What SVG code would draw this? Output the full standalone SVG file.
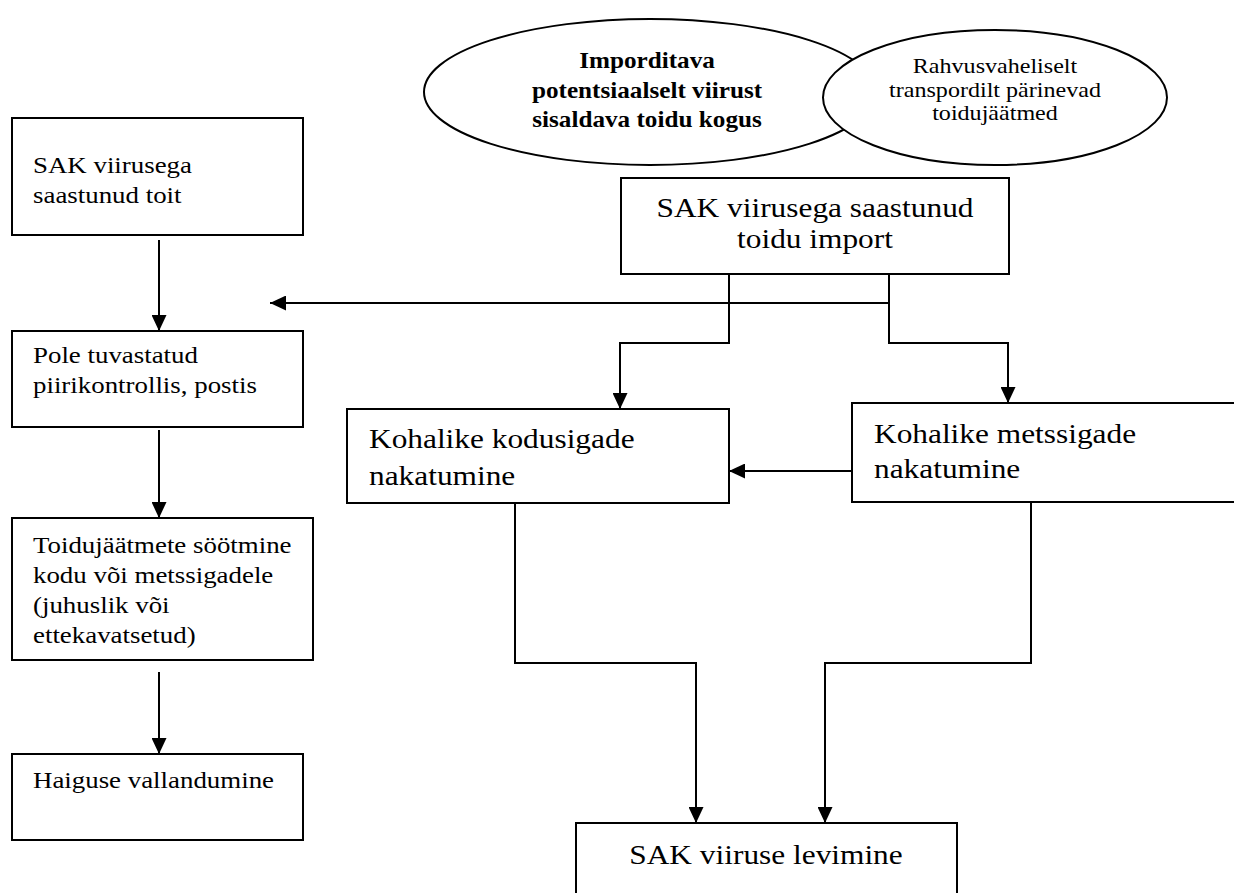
<svg xmlns="http://www.w3.org/2000/svg" width="1234" height="893" viewBox="0 0 1234 893">
<style>
  .box{fill:#fff;stroke:#000;stroke-width:2}
  .ell{fill:#fff;stroke:#000;stroke-width:2}
  .t{font-family:"Liberation Serif","Times New Roman",serif;fill:#000}
  .s24{font-size:24px}
  .s28{font-size:28px}
  .s20{font-size:21.5px}
  .b{font-weight:bold;font-size:22.5px}
  .c{text-anchor:middle}
  .ln{fill:none;stroke:#000;stroke-width:2}
</style>
<defs>
  <marker id="ah" markerUnits="userSpaceOnUse" markerWidth="16" markerHeight="15" refX="16" refY="7.5" orient="auto">
    <path d="M0,0 L16,7.5 L0,15 z" fill="#000"/>
  </marker>
</defs>
<rect width="1234" height="893" fill="#fff"/>

<g id="ell-import">
  <ellipse class="ell" cx="650" cy="92" rx="226" ry="73"/>
  <text class="t b c" transform="matrix(1.12 0 0 1 647 68)"><tspan x="0" y="0">Imporditava</tspan><tspan x="0" y="30">potentsiaalselt viirust</tspan><tspan x="0" y="59">sisaldava toidu kogus</tspan></text>
</g>
<g id="ell-transport">
  <ellipse class="ell" cx="995" cy="97.5" rx="172" ry="67.5"/>
  <text class="t s20 c" transform="matrix(1.12 0 0 1 995 73)"><tspan x="0" y="0">Rahvusvaheliselt</tspan><tspan x="0" y="24">transpordilt pärinevad</tspan><tspan x="0" y="47.5">toidujäätmed</tspan></text>
</g>

<g id="n-toit">
  <rect class="box" x="12" y="118" width="291" height="117"/>
  <text class="t s24" transform="matrix(1.12 0 0 1 33 173)"><tspan x="0" y="0">SAK viirusega</tspan><tspan x="0" y="30">saastunud toit</tspan></text>
</g>
<g id="n-pole">
  <rect class="box" x="12" y="331" width="291" height="96"/>
  <text class="t s24" transform="matrix(1.12 0 0 1 33 363)"><tspan x="0" y="0">Pole tuvastatud</tspan><tspan x="0" y="30">piirikontrollis, postis</tspan></text>
</g>
<g id="n-soot">
  <rect class="box" x="12" y="518" width="301" height="142"/>
  <text class="t s24" transform="matrix(1.12 0 0 1 33 553)"><tspan x="0" y="0">Toidujäätmete söötmine</tspan><tspan x="0" y="30">kodu või metssigadele</tspan><tspan x="0" y="60">(juhuslik või</tspan><tspan x="0" y="90">ettekavatsetud)</tspan></text>
</g>
<g id="n-haigus">
  <rect class="box" x="12" y="754" width="291" height="86"/>
  <text class="t s24" transform="matrix(1.12 0 0 1 33 788)">Haiguse vallandumine</text>
</g>
<g id="n-import">
  <rect class="box" x="621" y="178" width="388" height="96"/>
  <text class="t s28 c" transform="matrix(1.12 0 0 1 815 217)"><tspan x="0" y="0">SAK viirusega saastunud</tspan><tspan x="0" y="31">toidu import</tspan></text>
</g>
<g id="n-kodu">
  <rect class="box" x="347" y="409" width="382" height="94"/>
  <text class="t s28" transform="matrix(1.12 0 0 1 369 448)"><tspan x="0" y="0">Kohalike kodusigade</tspan><tspan x="0" y="37">nakatumine</tspan></text>
</g>
<g id="n-mets">
  <rect class="box" x="852" y="403" width="400" height="99"/>
  <text class="t s28" transform="matrix(1.12 0 0 1 874 443)"><tspan x="0" y="0">Kohalike metssigade</tspan><tspan x="0" y="35">nakatumine</tspan></text>
</g>
<g id="n-levimine">
  <rect class="box" x="576" y="823" width="381" height="100"/>
  <text class="t s28 c" transform="matrix(1.12 0 0 1 766 864)">SAK viiruse levimine</text>
</g>

<g id="connectors">
  <line class="ln" x1="159" y1="240" x2="159" y2="331" marker-end="url(#ah)"/>
  <line class="ln" x1="159" y1="430" x2="159" y2="518" marker-end="url(#ah)"/>
  <line class="ln" x1="159" y1="672" x2="159" y2="754" marker-end="url(#ah)"/>
  <line class="ln" x1="890" y1="303" x2="270" y2="303" marker-end="url(#ah)"/>
  <polyline class="ln" points="729,274 729,343 620,343 620,409" marker-end="url(#ah)"/>
  <polyline class="ln" points="889,274 889,343 1008,343 1008,403" marker-end="url(#ah)"/>
  <line class="ln" x1="852" y1="471" x2="729" y2="471" marker-end="url(#ah)"/>
  <polyline class="ln" points="515,503 515,663 696,663 696,823" marker-end="url(#ah)"/>
  <polyline class="ln" points="1031,502 1031,663 825,663 825,823" marker-end="url(#ah)"/>
</g>
</svg>
